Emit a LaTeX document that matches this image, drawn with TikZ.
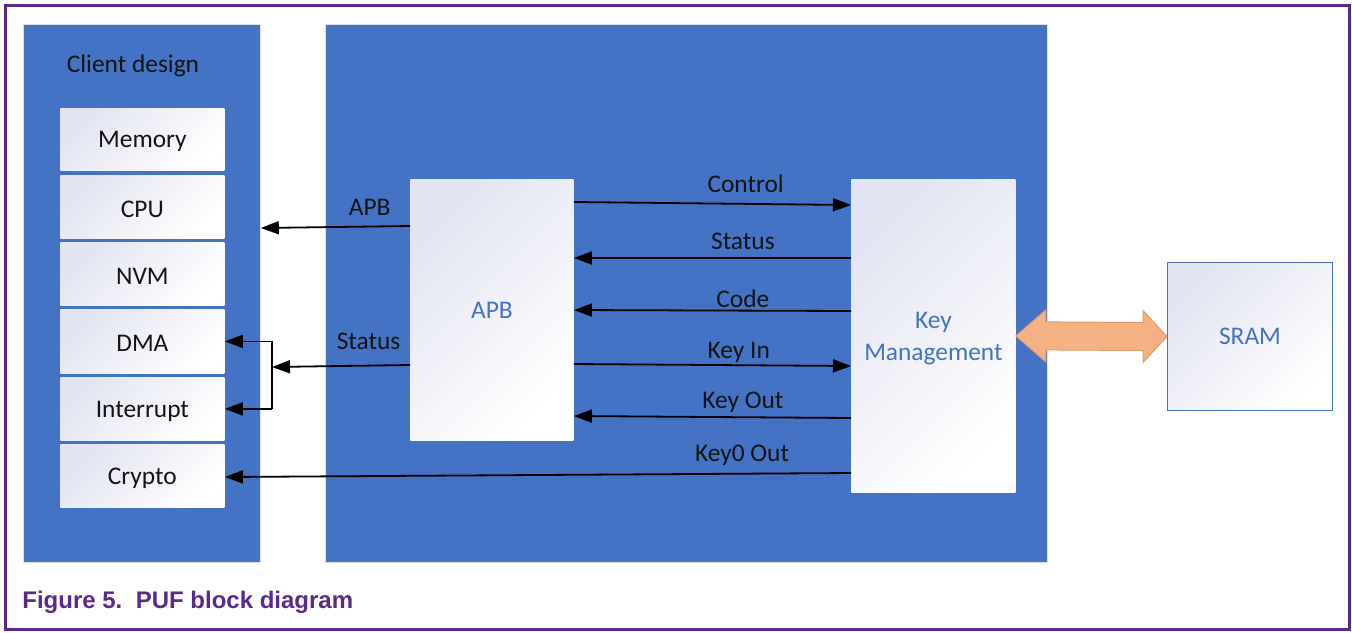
\documentclass[tikz,border=0pt]{standalone}
\usepackage{fontspec}
\setmainfont{Carlito}
\newfontfamily\capfont{Liberation Sans}
\usetikzlibrary{arrows.meta,calc}
\definecolor{pblue}{HTML}{4472C4}
\definecolor{nxppurple}{HTML}{5B2A86}
\definecolor{orangef}{HTML}{F4B183}
\definecolor{oranged}{HTML}{E39A66}
\definecolor{txt}{HTML}{141414}
\definecolor{lav}{HTML}{E2E4F1}
\begin{document}
\begin{tikzpicture}[x=0.5pt,y=-0.5pt,
  font=\fontsize{12.7}{15}\selectfont, text=txt,
  panel/.style={fill=pblue, draw=black!12, line width=0.4pt, anchor=north west, inner sep=0pt},
  unit/.style={top color=lav, bottom color=white, shading angle=45, draw=none, anchor=north west, inner sep=0pt, minimum width=82pt},
  unittext/.style={yshift=-1pt},
  blocktext/.style={text=pblue},
  sig/.style={line width=0.9pt, draw=black, -{Triangle[length=9pt,width=6.5pt]}},
  sigline/.style={line width=0.9pt, draw=black},
  lbl/.style={above=0pt, text=txt}
]
\useasboundingbox (0,0) rectangle (1352,632);
\fill[white] (0,0) rectangle (1352,632);
\draw[nxppurple, line width=1.5pt] (5,5) rectangle (1349,629);

% panels
\node[panel, minimum width=118.5pt, minimum height=269pt] (client) at (23,24) {};
\node[panel, minimum width=361pt, minimum height=269pt] (puf) at (325,24) {};
\node (cdtitle) at (133,66) {Client design};

% client units
\node[unit, minimum height=31pt] (mem) at (60,108) {};
\node[unittext] at (mem.center) {Memory};
\node[unit, minimum height=31.5pt] (cpu) at (60,175) {};
\node[unittext] at (cpu.center) {CPU};
\node[unit, minimum height=31.5pt] (nvm) at (60,242) {};
\node[unittext] at (nvm.center) {NVM};
\node[unit, minimum height=32pt] (dma) at (60,309) {};
\node[unittext] at (dma.center) {DMA};
\node[unit, minimum height=31.5pt] (int) at (60,377) {};
\node[unittext] at (int.center) {Interrupt};
\node[unit, minimum height=31.5pt] (cry) at (60,444) {};
\node[unittext] at (cry.center) {Crypto};

% APB and Key management
\node[unit, minimum width=81.5pt, minimum height=130.5pt] (apb) at (410,179) {};
\node[blocktext] at (apb.center) {APB};
\node[unit, minimum width=82pt, minimum height=156.5pt] (km) at (851,179) {};
\node[blocktext, align=center, yshift=-1.5pt] at (km.center) {Key\\[1pt]Management};

% SRAM
\node[unit, draw=pblue, line width=0.5pt, minimum width=82.5pt, minimum height=74pt] (sram) at (1167,262) {};
\node[blocktext] at (sram.center) {SRAM};

% double arrow
\filldraw[fill=orangef, draw=oranged, line width=0.5pt]
  (km.east) -- ($(km.east)+(30,-26)$) -- ($(km.east)+(30,-14)$)
  -- ($(sram.west)+(-24,-14)$) -- ($(sram.west)+(-24,-26)$) -- (sram.west)
  -- ($(sram.west)+(-24,26)$) -- ($(sram.west)+(-24,14)$)
  -- ($(km.east)+(30,14)$) -- ($(km.east)+(30,26)$) -- cycle;

% signals between APB and KM
\draw[sig] (apb.east |- 0,202) -- node[lbl, pos=0.62, yshift=2pt] {Control} (km.west |- 0,205);
\draw[sig] (km.west |- 0,258) -- node[lbl, pos=0.39, yshift=0.5pt] {Status} (apb.east |- 0,258);
\draw[sig] (km.west |- 0,311) -- node[lbl, pos=0.39, yshift=-2.5pt] {Code} (apb.east |- 0,310);
\draw[sig] (apb.east |- 0,364) -- node[lbl, pos=0.595, yshift=-2.5pt] {Key In} (km.west |- 0,366);
\draw[sig] (km.west |- 0,418) -- node[lbl, pos=0.39, yshift=-1.5pt] {Key Out} (apb.east |- 0,416);
\draw[sig] (km.west |- 0,473) -- node[lbl, pos=0.174, yshift=0.5pt] {Key0 Out} (cry.east |- 0,477);

% APB to client
\draw[sig] (apb.west |- 0,226) -- node[lbl, pos=0.27, yshift=1.5pt] {APB} (client.east |- 0,228);
\coordinate (jn) at (272,367);
\draw[sig] (apb.west |- 0,365) -- node[lbl, pos=0.30, yshift=4pt] {Status} (jn);
\draw[sigline] (jn |- dma.east) -- (jn |- int.east);
\draw[sig] (jn |- dma.east) -- (dma.east);
\draw[sig] (jn |- int.east) -- (int.east);

% caption
\node[anchor=base west, text=nxppurple, font=\capfont\bfseries\fontsize{12}{14}\selectfont, inner sep=0pt] (cap) at (22,608) {Figure 5.\ \ PUF block diagram};
\end{tikzpicture}
\end{document}
